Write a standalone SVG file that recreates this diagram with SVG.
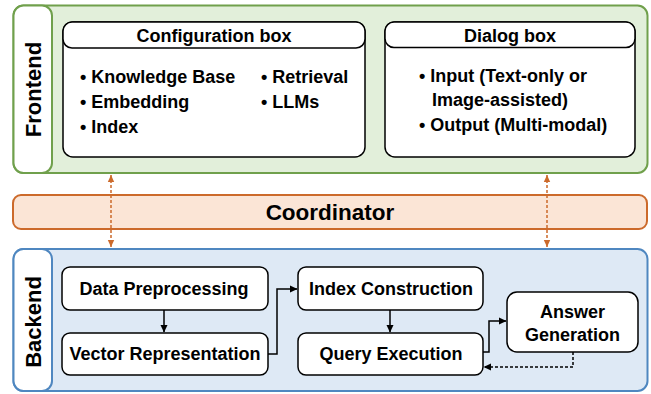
<svg xmlns="http://www.w3.org/2000/svg" width="651" height="394" viewBox="0 0 651 394">
<defs>
<style>
text{font-family:"Liberation Sans",Arial,sans-serif;font-weight:bold;fill:#000}
.t{font-size:18px}
.c{text-anchor:middle}
.side{font-size:22px;text-anchor:middle}
.box{fill:#fff;stroke:#000;stroke-width:1.5}
.conn{fill:none;stroke:#000;stroke-width:1.5}
.dash{fill:none;stroke:#000;stroke-width:1.5;stroke-dasharray:3 2}
.odash{fill:none;stroke:#cc6a2b;stroke-width:1.5;stroke-dasharray:3 2}
</style>
<marker id="ah" markerWidth="8" markerHeight="8" refX="7" refY="4" orient="auto" markerUnits="userSpaceOnUse">
<path d="M0,0.5 L7.5,4 L0,7.5 Z" fill="#000"/>
</marker>
<marker id="oh" markerWidth="8" markerHeight="8" refX="7" refY="4" orient="auto-start-reverse" markerUnits="userSpaceOnUse">
<path d="M0,0.8 L7,4 L0,7.2 Z" fill="#cc6a2b"/>
</marker>
</defs>

<g id="frontend">
<rect x="13.5" y="5.5" width="634" height="167.5" rx="10" fill="#e2efda" stroke="#70a04c" stroke-width="2"/>
<rect x="13.5" y="5.5" width="38.5" height="167.5" rx="10" fill="#fff" stroke="#70a04c" stroke-width="2"/>
<text class="side" transform="translate(41,89.5) rotate(-90)">Frontend</text>
</g>

<g id="config-box">
<rect class="box" x="63" y="22" width="302" height="135" rx="10"/>
<rect class="box" x="63" y="22" width="302" height="26" rx="9"/>
<text class="t c" x="214" y="42">Configuration box</text>
<text class="t" x="80" y="83">• Knowledge Base</text>
<text class="t" x="80" y="108">• Embedding</text>
<text class="t" x="80" y="133">• Index</text>
<text class="t" x="261" y="83">• Retrieval</text>
<text class="t" x="261" y="108">• LLMs</text>
</g>

<g id="dialog-box">
<rect class="box" x="385" y="22" width="250" height="135" rx="10"/>
<rect class="box" x="385" y="22" width="250" height="25.5" rx="9"/>
<text class="t c" x="510" y="42">Dialog box</text>
<text class="t" x="419" y="82">• Input (Text-only or</text>
<text class="t" x="432" y="106">Image-assisted)</text>
<text class="t" x="419" y="131">• Output (Multi-modal)</text>
</g>

<g id="coordinator">
<rect x="13" y="195" width="634" height="34" rx="8" fill="#fbe5d6" stroke="#cc6a2b" stroke-width="2"/>
<text class="c" x="330" y="220" style="font-size:22.5px">Coordinator</text>
</g>

<g id="backend">
<rect x="13.5" y="249" width="634" height="142" rx="10" fill="#dee9f5" stroke="#4f87c0" stroke-width="2"/>
<rect x="13.5" y="249" width="38.5" height="142" rx="10" fill="#fff" stroke="#4f87c0" stroke-width="2"/>
<text class="side" transform="translate(41,322) rotate(-90)">Backend</text>
</g>

<g id="data-preprocessing">
<rect class="box" x="62" y="267" width="206" height="43" rx="8"/>
<text class="t c" x="164" y="295">Data Preprocessing</text>
</g>
<g id="vector-representation">
<rect class="box" x="62" y="333" width="206" height="42" rx="8"/>
<text class="t c" x="165" y="360">Vector Representation</text>
</g>
<g id="index-construction">
<rect class="box" x="298" y="267" width="185" height="43" rx="8"/>
<text class="t c" x="391" y="295">Index Construction</text>
</g>
<g id="query-execution">
<rect class="box" x="298" y="333" width="185" height="42" rx="8"/>
<text class="t c" x="391" y="360">Query Execution</text>
</g>
<g id="answer-generation">
<rect class="box" x="507" y="292" width="131" height="60" rx="10"/>
<text class="t c" x="572.5" y="318">Answer</text>
<text class="t c" x="572.5" y="341">Generation</text>
</g>

<g id="connectors">
<path class="odash" d="M111,175 V247" marker-start="url(#oh)" marker-end="url(#oh)"/>
<path class="odash" d="M547,175 V247" marker-start="url(#oh)" marker-end="url(#oh)"/>
<path class="conn" d="M164,310 V332" marker-end="url(#ah)"/>
<path class="conn" d="M390,310 V332" marker-end="url(#ah)"/>
<path class="conn" d="M268,354 H277 V289 H297" marker-end="url(#ah)"/>
<path class="conn" d="M483,352 H489 V321 H506" marker-end="url(#ah)"/>
<path class="dash" d="M573,352 V367 H484" marker-end="url(#ah)"/>
</g>
</svg>
